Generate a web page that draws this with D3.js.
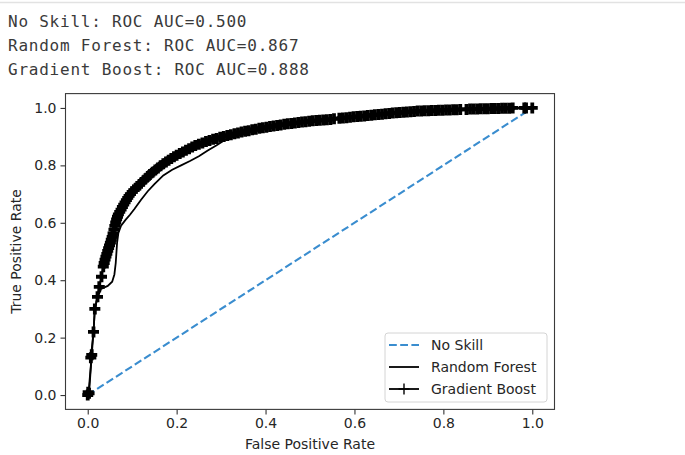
<!DOCTYPE html>
<html>
<head>
<meta charset="utf-8">
<script src="https://cdn.jsdelivr.net/npm/d3@7"></script>
<style>
  body { margin: 0; background: #fff; }
  .out { font-family: "DejaVu Sans Mono", monospace; font-size: 16px; letter-spacing: 0.77px; fill: #3a3a3a; }
  .tick text, .lab, .leg text { font-family: "DejaVu Sans", sans-serif; font-size: 14px; fill: #262626; }
</style>
</head>
<body>
<svg id="chart" width="685" height="455"></svg>
<script>
const outputLines = [
    "No Skill: ROC AUC=0.500",
    "Random Forest: ROC AUC=0.867",
    "Gradient Boost: ROC AUC=0.888"
];
const tickValues = [0, 0.2, 0.4, 0.6, 0.8, 1.0];
const seriesNames = ["No Skill", "Random Forest", "Gradient Boost"];

// roc points as [fpr, tpr]
const nsRoc = [[0, 0], [1, 1]];
const rfRoc = [
    [0, 0], [0.002, 0.01], [0.009, 0.14], [0.013, 0.22], [0.016, 0.30], [0.022, 0.34], [0.03, 0.37],
    [0.045, 0.38], [0.055, 0.395], [0.06, 0.42], [0.063, 0.46], [0.066, 0.53], [0.069, 0.565],
    [0.075, 0.59], [0.085, 0.61], [0.095, 0.628], [0.105, 0.648], [0.12, 0.68], [0.135, 0.71],
    [0.15, 0.735], [0.17, 0.765], [0.19, 0.785], [0.21, 0.80], [0.23, 0.815], [0.25, 0.832],
    [0.27, 0.852], [0.29, 0.87], [0.31, 0.89], [0.33, 0.90], [0.38, 0.92], [0.45, 0.94],
    [0.55, 0.96], [0.65, 0.975], [0.75, 0.985], [0.85, 0.993], [0.95, 0.998], [1, 1]
];
const gbRoc = [
    [0, 0], [0.001, 0.010], [0.003, 0.006], [0.009, 0.140], [0.007, 0.130], [0.013, 0.220], [0.016, 0.300],
    [0.022, 0.342], [0.026, 0.377], [0.031, 0.412],
    [0.035, 0.447], [0.037, 0.460], [0.039, 0.472], [0.041, 0.482], [0.043, 0.492], [0.045, 0.502],
    [0.047, 0.512], [0.049, 0.521], [0.051, 0.531], [0.053, 0.541], [0.055, 0.551], [0.057, 0.563],
    [0.059, 0.576], [0.061, 0.589], [0.063, 0.601], [0.065, 0.612], [0.067, 0.621], [0.069, 0.629],
    [0.072, 0.638], [0.075, 0.646], [0.078, 0.655], [0.081, 0.663], [0.084, 0.671], [0.087, 0.679],
    [0.090, 0.687], [0.093, 0.694], [0.096, 0.700], [0.100, 0.708],
    [0.104, 0.714], [0.108, 0.720], [0.112, 0.726], [0.116, 0.732], [0.120, 0.739], [0.125, 0.746],
    [0.130, 0.753], [0.135, 0.761], [0.140, 0.768], [0.146, 0.776], [0.152, 0.784], [0.158, 0.791],
    [0.164, 0.799], [0.170, 0.806], [0.176, 0.812], [0.182, 0.818], [0.188, 0.824], [0.194, 0.830],
    [0.200, 0.835], [0.207, 0.841], [0.214, 0.847], [0.221, 0.853], [0.228, 0.858], [0.235, 0.864],
    [0.242, 0.869], [0.250, 0.874], [0.258, 0.878], [0.266, 0.883], [0.274, 0.887], [0.282, 0.891],
    [0.290, 0.894], [0.298, 0.898], [0.306, 0.901],
    [0.314, 0.904], [0.322, 0.907], [0.330, 0.910], [0.338, 0.913], [0.346, 0.916], [0.354, 0.919],
    [0.362, 0.921], [0.370, 0.924], [0.378, 0.926], [0.386, 0.929], [0.394, 0.931], [0.402, 0.933],
    [0.410, 0.935], [0.418, 0.937], [0.426, 0.939], [0.434, 0.941], [0.442, 0.943], [0.450, 0.945],
    [0.458, 0.946], [0.466, 0.948], [0.474, 0.949], [0.482, 0.951], [0.490, 0.952], [0.498, 0.954],
    [0.506, 0.955], [0.514, 0.956], [0.522, 0.957], [0.530, 0.958], [0.538, 0.959], [0.546, 0.960],
    [0.554, 0.962], [0.566, 0.964], [0.574, 0.965], [0.582, 0.966], [0.590, 0.968], [0.598, 0.969],
    [0.606, 0.970], [0.614, 0.971], [0.622, 0.972], [0.630, 0.974], [0.638, 0.975], [0.646, 0.976],
    [0.654, 0.977], [0.662, 0.978], [0.670, 0.980], [0.678, 0.981], [0.686, 0.982], [0.694, 0.983],
    [0.702, 0.984], [0.710, 0.985], [0.718, 0.986], [0.726, 0.987], [0.734, 0.988], [0.742, 0.989],
    [0.750, 0.989], [0.758, 0.990], [0.766, 0.990], [0.774, 0.991], [0.782, 0.991], [0.790, 0.992],
    [0.798, 0.992], [0.806, 0.993], [0.814, 0.993], [0.822, 0.994], [0.830, 0.994], [0.838, 0.995],
    [0.852, 0.995], [0.860, 0.996], [0.868, 0.996], [0.876, 0.996], [0.884, 0.997], [0.892, 0.997],
    [0.900, 0.997], [0.908, 0.998], [0.916, 0.998], [0.924, 0.998], [0.932, 0.999], [0.940, 0.999],
    [0.948, 0.999], [0.956, 1.000], [0.982, 1.000], [0.986, 1.000], [1.000, 1.000]
];

const svg = d3.select("#chart");

// notebook output area
svg.append("line")
    .attr("x1", 0).attr("x2", 685)
    .attr("y1", 2.5).attr("y2", 2.5)
    .attr("stroke", "#e2e2e2")
    .attr("stroke-width", 1.5);

svg.selectAll(".out")
    .data(outputLines)
    .enter()
    .append("text")
    .attr("class", "out")
    .attr("x", 8)
    .attr("y", (d, i) => 27 + i * 24)
    .text(d => d);

const plotLeft = 65.5, plotRight = 554.5, plotTop = 93.6, plotBottom = 409.4;

const xScale = d3.scaleLinear().domain([-0.05, 1.05]).range([plotLeft, plotRight]);
const yScale = d3.scaleLinear().domain([-0.05, 1.05]).range([plotBottom, plotTop]);

svg.append("clipPath")
    .attr("id", "clip")
    .append("rect")
    .attr("x", plotLeft).attr("y", plotTop)
    .attr("width", plotRight - plotLeft).attr("height", plotBottom - plotTop);

const line = d3.line()
    .x(d => xScale(d[0]))
    .y(d => yScale(d[1]));

const plot = svg.append("g").attr("clip-path", "url(#clip)");

plot.append("path")
    .datum(nsRoc)
    .attr("d", line)
    .attr("fill", "none")
    .attr("stroke", "#3a8dcf")
    .attr("stroke-width", 2.1)
    .attr("stroke-dasharray", "7.8,3.4");

plot.append("path")
    .datum(rfRoc)
    .attr("d", line)
    .attr("fill", "none")
    .attr("stroke", "#000")
    .attr("stroke-width", 1.8);

plot.append("path")
    .datum(gbRoc)
    .attr("d", line)
    .attr("fill", "none")
    .attr("stroke", "#000")
    .attr("stroke-width", 1.8);

const plus = "M-5.5,0H5.5M0,-5.5V5.5";

plot.selectAll(".gb")
    .data(gbRoc)
    .enter()
    .append("path")
    .attr("class", "gb")
    .attr("transform", d => "translate(" + xScale(d[0]) + "," + yScale(d[1]) + ")")
    .attr("d", plus)
    .attr("stroke", "#000")
    .attr("stroke-width", 3.8);

// axes
const xAxis = d3.axisBottom(xScale).tickValues(tickValues).tickFormat(d3.format(".1f")).tickSize(5).tickPadding(4);
const yAxis = d3.axisLeft(yScale).tickValues(tickValues).tickFormat(d3.format(".1f")).tickSize(5).tickPadding(4);

const gx = svg.append("g")
    .attr("transform", "translate(0," + plotBottom + ")")
    .call(xAxis);
const gy = svg.append("g")
    .attr("transform", "translate(" + plotLeft + ",0)")
    .call(yAxis);

[gx, gy].forEach(g => {
    g.select(".domain").remove();
    g.selectAll(".tick line").attr("stroke", "#333").attr("stroke-width", 1.1);
});

svg.append("rect")
    .attr("x", plotLeft).attr("y", plotTop)
    .attr("width", plotRight - plotLeft).attr("height", plotBottom - plotTop)
    .attr("fill", "none")
    .attr("stroke", "#3a3a3a")
    .attr("stroke-width", 1.1);

svg.append("text")
    .attr("class", "lab")
    .attr("x", (plotLeft + plotRight) / 2)
    .attr("y", 449)
    .attr("text-anchor", "middle")
    .text("False Positive Rate");

svg.append("text")
    .attr("class", "lab")
    .attr("transform", "translate(21," + (plotTop + plotBottom) / 2 + ") rotate(-90)")
    .attr("text-anchor", "middle")
    .text("True Positive Rate");

// legend
const leg = svg.append("g").attr("class", "leg");
leg.append("rect")
    .attr("x", 385).attr("y", 333)
    .attr("width", 162).attr("height", 69)
    .attr("rx", 3)
    .attr("fill", "#fff")
    .attr("fill-opacity", 0.8)
    .attr("stroke", "#d4d4d4");

const items = leg.selectAll(".item")
    .data(seriesNames)
    .enter()
    .append("g")
    .attr("class", "item")
    .attr("transform", (d, i) => "translate(389," + (345 + i * 22) + ")");

items.append("line")
    .attr("x1", 0).attr("x2", 30)
    .attr("stroke", (d, i) => i === 0 ? "#3a8dcf" : "#000")
    .attr("stroke-width", (d, i) => i === 0 ? 2.1 : 1.8)
    .attr("stroke-dasharray", (d, i) => i === 0 ? "7.8,3.4" : null);

items.filter((d, i) => i === 2)
    .append("path")
    .attr("transform", "translate(15,0)")
    .attr("d", plus)
    .attr("stroke", "#000")
    .attr("stroke-width", 1.4);

items.append("text")
    .attr("x", 42)
    .attr("dy", "0.35em")
    .text(d => d);
</script>
</body>
</html>
